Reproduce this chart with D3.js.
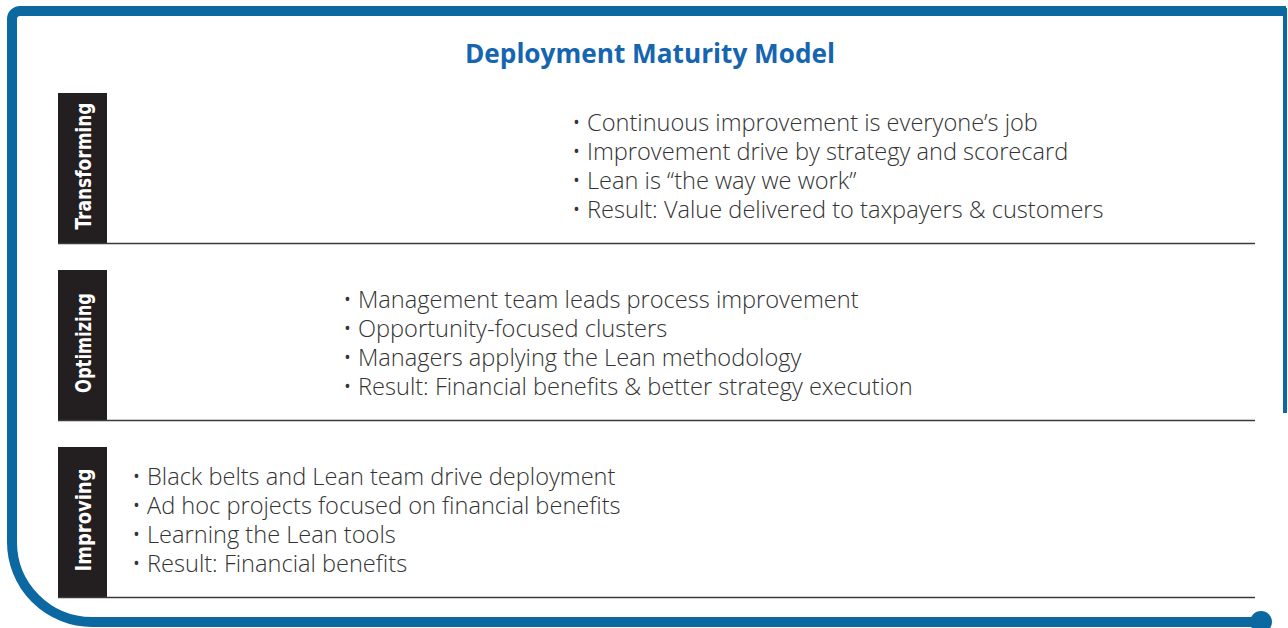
<!DOCTYPE html>
<html>
<head>
<meta charset="utf-8">
<script src="https://cdn.jsdelivr.net/npm/d3@7"></script>
<style>
  html, body { margin: 0; padding: 0; background: #ffffff; }
  svg { display: block; }
</style>
</head>
<body>
<svg id="chart" width="1288" height="628"></svg>
<script>
// ---- data ----
const title = "Deployment Maturity Model";
const stages = ["Transforming", "Optimizing", "Improving"];
const transformingBullets = [
  "Continuous improvement is everyone\u2019s job",
  "Improvement drive by strategy and scorecard",
  "Lean is \u201cthe way we work\u201d",
  "Result: Value delivered to taxpayers & customers"
];
const optimizingBullets = [
  "Management team leads process improvement",
  "Opportunity-focused clusters",
  "Managers applying the Lean methodology",
  "Result: Financial benefits & better strategy execution"
];
const improvingBullets = [
  "Black belts and Lean team drive deployment",
  "Ad hoc projects focused on financial benefits",
  "Learning the Lean tools",
  "Result: Financial benefits"
];
const bulletsByStage = [transformingBullets, optimizingBullets, improvingBullets];

// ---- layout ----
const W = 1288, H = 628;
const blue = "#0b68a1";
const titleBlue = "#1565b0";
const svg = d3.select("#chart");

// frame
const frame = d3.path();
frame.moveTo(1286, 11);
frame.lineTo(20, 11);
frame.arcTo(12, 11, 12, 19, 8);
frame.lineTo(12, 542);
frame.arcTo(12, 622, 92, 622, 80);
frame.lineTo(1258, 622);
svg.append("path")
  .attr("d", frame.toString())
  .attr("fill", "none")
  .attr("stroke", blue)
  .attr("stroke-width", 10);
svg.append("rect")
  .attr("x", 1283).attr("y", 8).attr("width", 4).attr("height", 405)
  .attr("fill", blue);
svg.append("circle")
  .attr("cx", 1261).attr("cy", 622).attr("r", 11)
  .attr("fill", blue);

// title
svg.append("text")
  .attr("x", 650).attr("y", 63)
  .attr("text-anchor", "middle")
  .attr("font-family", "'Open Sans', 'Noto Sans', sans-serif")
  .attr("font-weight", 700)
  .attr("font-size", 26.2)
  .attr("fill", titleBlue)
  .text(title);

// rows
const y = d3.scaleBand()
  .domain(stages)
  .range([93, 597])
  .paddingInner(27 / 177);

const boxX = 58, boxW = 49;
const lineX2 = 1255;
const indentX = d3.scaleOrdinal().domain(stages).range([572, 343, 132]);
const lineStep = 29;

const rows = svg.selectAll("g.row")
  .data(stages)
  .join("g")
  .attr("class", "row")
  .attr("transform", d => `translate(0,${y(d)})`);

rows.append("rect")
  .attr("x", boxX).attr("y", 0)
  .attr("width", boxW).attr("height", y.bandwidth())
  .attr("fill", "#231f20");

rows.append("line")
  .attr("x1", boxX).attr("x2", lineX2)
  .attr("y1", y.bandwidth() + 0.5).attr("y2", y.bandwidth() + 0.5)
  .attr("stroke", "#3a3a3a")
  .attr("stroke-width", 1.6);

const labelLen = { "Transforming": 127, "Optimizing": 100, "Improving": 103 };
rows.append("text")
  .attr("transform", `translate(${boxX + 33},${y.bandwidth() / 2 - 2}) rotate(-90)`)
  .attr("text-anchor", "middle")
  .attr("font-family", "'Liberation Sans Narrow', 'DejaVu Sans Condensed', sans-serif")
  .attr("font-weight", 700)
  .attr("font-size", 22)
  .attr("fill", "#ffffff")
  .attr("textLength", d => labelLen[d])
  .attr("lengthAdjust", "spacingAndGlyphs")
  .text(d => d);

rows.each(function (stage, i) {
  const g = d3.select(this);
  const tx = g.append("text")
    .attr("font-family", "'Open Sans', 'Noto Sans', sans-serif")
    .attr("font-weight", 300)
    .attr("font-size", 23.6)
    .attr("fill", "#333333");
  tx.selectAll("tspan")
    .data(bulletsByStage[i])
    .join("tspan")
    .attr("x", indentX(stage))
    .attr("y", (d, j) => 38 + j * lineStep)
    .text(d => "\u2022 " + d);
});
</script>
</body>
</html>
